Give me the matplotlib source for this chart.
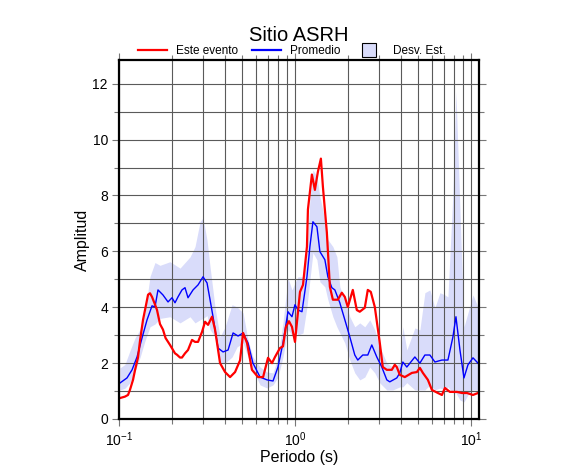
import numpy as np
import matplotlib
matplotlib.use("Agg")
import matplotlib.pyplot as plt
from matplotlib.ticker import MultipleLocator, LogLocator, NullFormatter
from matplotlib.lines import Line2D

plt.rcParams['font.family'] = ['Liberation Sans', 'DejaVu Sans']
plt.rcParams['mathtext.fontset'] = 'custom'
plt.rcParams['mathtext.rm'] = 'Liberation Sans'
plt.rcParams['mathtext.it'] = 'Liberation Sans:italic'
plt.rcParams['mathtext.bf'] = 'Liberation Sans:bold'

# Este evento
periodo_evento = [0.1013, 0.108, 0.1125, 0.1155, 0.1201, 0.1233, 0.1282, 0.1316, 0.1369, 0.1405,
                  0.1462, 0.150, 0.154, 0.1601, 0.1644, 0.1709, 0.1777, 0.1838, 0.1949, 0.208,
                  0.2135, 0.2221, 0.2279, 0.2371, 0.2466, 0.2599, 0.2703, 0.2812, 0.2963, 0.3082,
                  0.3205, 0.3377, 0.3512, 0.375, 0.4004, 0.4276, 0.4564, 0.4873, 0.5069, 0.5337,
                  0.5693, 0.6168, 0.6585, 0.7024, 0.7401, 0.7696, 0.8214, 0.8543, 0.8882, 0.924,
                  0.9609, 0.9995, 1.0672, 1.110, 1.169, 1.184, 1.247, 1.297, 1.349, 1.403,
                  1.440, 1.517, 1.578, 1.641, 1.751, 1.845, 1.919, 1.995, 2.130, 2.244,
                  2.333, 2.491, 2.591, 2.695, 2.840, 3.032, 3.153, 3.323, 3.547, 3.689,
                  3.787, 3.939, 4.206, 4.613, 4.924, 5.122, 5.327, 5.689, 5.995, 6.485,
                  6.834, 7.108, 7.589, 8.318, 8.882, 9.484, 10.26, 10.95]
amp_evento = [0.75, 0.80, 0.86, 1.05, 1.40, 1.75, 2.20, 2.80, 3.55, 3.90,
              4.45, 4.50, 4.37, 4.10, 3.90, 3.40, 3.20, 2.90, 2.65, 2.35,
              2.30, 2.20, 2.20, 2.35, 2.47, 2.83, 2.76, 2.76, 3.12, 3.48,
              3.37, 3.66, 3.20, 2.00, 1.68, 1.50, 1.68, 2.10, 3.08, 2.72,
              1.76, 1.50, 1.50, 2.19, 2.00, 2.22, 2.54, 2.60, 3.30, 3.50,
              3.30, 2.76, 4.55, 4.80, 6.17, 7.50, 8.75, 8.20, 8.85, 9.32,
              8.32, 6.67, 4.73, 4.27, 4.27, 4.52, 4.37, 4.01, 4.62, 3.90,
              3.84, 3.98, 4.62, 4.55, 4.01, 2.72, 1.86, 1.76, 1.76, 1.94,
              1.86, 1.58, 1.50, 1.65, 1.68, 1.83, 1.65, 1.40, 1.04, 0.93,
              0.86, 1.11, 0.97, 0.97, 0.93, 0.93, 0.86, 0.93]

# Promedio
periodo_prom = [0.1013, 0.111, 0.1186, 0.1266, 0.1351, 0.1443, 0.154, 0.1601, 0.1665, 0.1777,
                0.1899, 0.200, 0.208, 0.2163, 0.2279, 0.2371, 0.2466, 0.2634, 0.2812, 0.3002,
                0.3163, 0.329, 0.3421, 0.3653, 0.3901, 0.4166, 0.4447, 0.4747, 0.5069, 0.5407,
                0.5767, 0.6331, 0.6933, 0.7498, 0.8002, 0.8543, 0.912, 0.9609, 0.9995, 1.0396,
                1.0954, 1.169, 1.215, 1.264, 1.332, 1.385, 1.478, 1.537, 1.619, 1.684,
                1.797, 1.919, 2.048, 2.186, 2.273, 2.427, 2.591, 2.730, 2.915, 3.112,
                3.323, 3.455, 3.787, 3.939, 4.098, 4.318, 4.797, 5.122, 5.469, 5.840,
                6.235, 6.834, 7.393, 7.894, 8.210, 8.652, 9.118, 9.608, 10.26, 10.95]
amp_prom = [1.29, 1.47, 1.76, 2.22, 2.90, 3.55, 4.05, 4.01, 4.62, 4.44,
            4.19, 4.34, 4.16, 4.37, 4.62, 4.70, 4.34, 4.62, 4.80, 5.09,
            4.87, 4.27, 3.66, 2.54, 2.40, 2.47, 3.08, 2.97, 3.08, 2.72,
            2.00, 1.50, 1.40, 1.36, 1.86, 2.72, 3.84, 3.66, 4.09, 3.90,
            3.84, 5.09, 6.17, 7.06, 6.88, 5.99, 5.70, 5.09, 4.70, 4.62,
            4.16, 3.55, 2.94, 2.29, 2.11, 2.29, 2.29, 2.65, 2.22, 1.86,
            1.40, 1.33, 1.47, 1.65, 2.04, 1.86, 2.22, 2.00, 2.29, 2.29,
            2.04, 2.11, 2.11, 2.94, 3.66, 2.47, 1.47, 1.94, 2.19, 2.00]

# Desv. Est. (banda inferior / superior)
periodo_desv = [0.1013, 0.108, 0.1155, 0.1233, 0.1316, 0.1405, 0.150, 0.1601, 0.1709, 0.1949,
                0.2221, 0.2532, 0.2703, 0.2887, 0.3002, 0.3163, 0.329, 0.3512, 0.375, 0.4004,
                0.439, 0.4685, 0.5069, 0.5407, 0.5767, 0.6331, 0.6933, 0.7498, 0.8002, 0.8543,
                0.912, 0.9609, 0.9995, 1.0396, 1.110, 1.169, 1.215, 1.264, 1.332, 1.385,
                1.478, 1.537, 1.641, 1.729, 1.797, 1.919, 2.048, 2.186, 2.333, 2.491,
                2.660, 2.840, 3.032, 3.323, 3.594, 3.939, 4.098, 4.318, 4.797, 5.122,
                5.469, 5.840, 6.235, 6.657, 7.108, 7.393, 7.894, 8.210, 8.652, 9.118,
                9.608, 10.26, 10.95]
desv_inf = [1.04, 1.10, 1.30, 1.70, 2.20, 2.80, 3.30, 3.40, 3.60, 3.66,
            3.44, 3.66, 3.44, 3.55, 3.60, 3.70, 3.20, 2.94, 2.00, 2.00,
            2.22, 2.58, 2.72, 2.22, 1.76, 1.22, 1.11, 1.22, 1.50, 2.22,
            3.20, 3.00, 3.20, 3.00, 3.08, 4.01, 4.98, 5.95, 5.70, 4.91,
            4.73, 4.27, 3.66, 3.30, 3.08, 2.72, 2.11, 1.65, 1.40, 1.50,
            1.86, 1.65, 1.29, 1.04, 1.04, 1.15, 1.15, 1.30, 1.04, 1.04,
            1.04, 1.22, 1.04, 1.11, 1.04, 1.15, 0.93, 0.93, 0.68, 0.61,
            0.86, 1.04, 1.04]
desv_sup = [1.83, 1.95, 2.45, 2.90, 3.20, 3.80, 5.10, 5.60, 5.50, 5.63,
            5.40, 5.80, 6.17, 7.06, 7.20, 6.40, 5.45, 4.00, 2.94, 3.30,
            4.09, 4.01, 3.80, 2.83, 2.22, 1.86, 1.68, 1.65, 2.22, 3.44,
            5.05, 4.62, 4.87, 5.09, 5.09, 6.06, 7.85, 8.92, 8.67, 7.96,
            7.13, 6.42, 6.17, 5.81, 4.73, 4.27, 3.66, 3.30, 3.44, 3.30,
            3.55, 3.19, 2.58, 2.00, 1.86, 2.00, 3.30, 2.47, 3.26, 3.19,
            4.52, 4.62, 3.98, 4.52, 4.44, 4.37, 8.10, 11.72, 7.49, 3.30,
            3.80, 4.44, 4.01]

fig = plt.figure(figsize=(5.86, 4.75), dpi=100)
ax = fig.add_axes([0.2031, 0.1179, 0.6143, 0.7558])

banda_color = '#d9dcfa'
ax.fill_between(periodo_desv, desv_inf, desv_sup, color=banda_color, lw=0, zorder=1)
ax.plot(periodo_prom, amp_prom, color='#0000ff', lw=1.0, zorder=3)
ax.plot(periodo_evento, amp_evento, color='#ff0000', lw=1.6, zorder=4)

ax.set_xscale('log')
ax.set_xlim(0.1, 11.1)
ax.set_ylim(0, 12.85)
ax.yaxis.set_major_locator(MultipleLocator(2))
ax.yaxis.set_minor_locator(MultipleLocator(1))
ax.xaxis.set_major_locator(LogLocator(base=10))
ax.xaxis.set_minor_locator(LogLocator(base=10, subs=np.arange(2, 10)))
ax.xaxis.set_minor_formatter(NullFormatter())

ax.grid(True, which='both', color='#5a5a5a', lw=0.8, zorder=2)
ax.set_axisbelow(False)
for s in ax.spines.values():
    s.set_linewidth(1.6)
    s.set_zorder(5)

ax.tick_params(which='both', direction='out', top=True, right=True, color='#777777',
               labelsize=10, width=0.8)
ax.tick_params(which='major', length=5, pad=3)
ax.tick_params(which='minor', length=3.5)

ax.set_xlabel('Periodo (s)', fontsize=11.5, labelpad=1)
ax.set_ylabel('Amplitud', fontsize=11.5, labelpad=2)
ax.set_title('Sitio ASRH', fontsize=14.5, pad=14)

handles = [Line2D([], [], color='#ff0000', lw=1.6),
           Line2D([], [], color='#0000ff', lw=1.6),
           Line2D([], [], marker='s', markersize=9.5, markerfacecolor=banda_color,
                  markeredgecolor='black', markeredgewidth=0.8, linestyle='None')]
ax.legend(handles, ['Este evento', 'Promedio', 'Desv. Est.'], ncol=3, frameon=False,
          loc='lower center', bbox_to_anchor=(0.48, 0.995), fontsize=8.5,
          handlelength=2.4, handletextpad=0.8, columnspacing=1.2, borderaxespad=0)

fig.savefig('out.png', dpi=100)
